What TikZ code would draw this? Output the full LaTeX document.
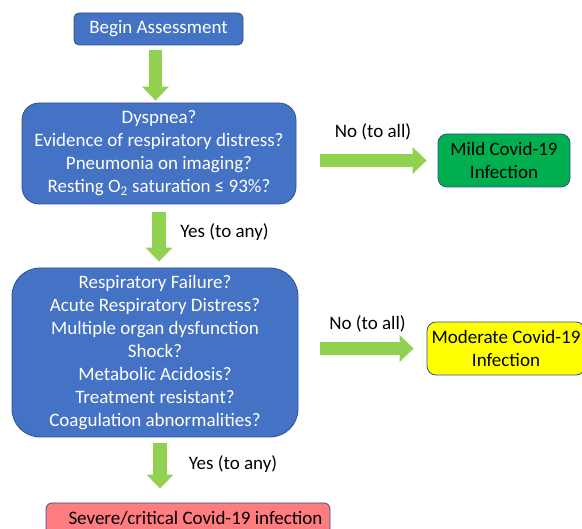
\documentclass[tikz,border=0pt]{standalone}
\usepackage{fontspec}
\setmainfont{Carlito}
\usetikzlibrary{arrows.meta}
\definecolor{boxblue}{HTML}{4472C4}
\definecolor{edgeblue}{HTML}{2F528F}
\definecolor{arrowgreen}{HTML}{92D050}
\definecolor{mildgreen}{HTML}{00B050}
\definecolor{modyellow}{HTML}{FFFF00}
\definecolor{sevred}{HTML}{FF7C80}
\begin{document}
\begin{tikzpicture}[x=1pt,y=-1pt,
  font=\fontsize{19}{23}\selectfont,
  box/.style={draw=edgeblue, line width=0.8pt, align=center, inner sep=0pt},
  bluebox/.style={box, fill=boxblue, text=white},
  garrow/.style={draw=arrowgreen, line width=13.5pt, -{Triangle[width=26pt,length=14pt]}},
  lbl/.style={anchor=base, text=black, inner sep=0pt}]
\useasboundingbox (0,0) rectangle (582,529);
\clip (0,0) rectangle (582,529);
\node[bluebox, rounded corners=5pt, minimum width=169pt, minimum height=32pt] (begin) at (158.5,29) {Begin Assessment};
\node[bluebox, rounded corners=17pt, minimum width=274pt, minimum height=101pt] (dys) at (159,153.5)
  {Dyspnea?\\Evidence of respiratory distress?\\Pneumonia on imaging?\\Resting O\textsubscript{2} saturation ≤ 93\%?};
\node[box, fill=mildgreen, rounded corners=9pt, minimum width=132pt, minimum height=53pt] (mild) at (504,160.5)
  {Mild Covid-19\\Infection};
\node[bluebox, rounded corners=28pt, minimum width=286pt, minimum height=169pt] (big) at (155,352.5)
  {Respiratory Failure?\\Acute Respiratory Distress?\\Multiple organ dysfunction\\Shock?\\Metabolic Acidosis?\\Treatment resistant?\\Coagulation abnormalities?};
\node[box, fill=modyellow, rounded corners=9pt, minimum width=158pt, minimum height=53pt] (mod) at (506,348.5)
  {Moderate Covid-19\\Infection};
\node[box, fill=sevred, rounded corners=6pt, minimum width=284pt, minimum height=31pt] (sev) at (188,518.5)
  {\hspace*{15pt}Severe/critical Covid-19 infection};
\draw[garrow, shorten <=5pt, shorten >=2pt] ([xshift=-3pt]begin.south) -- ([xshift=-3pt]begin.south |- dys.north);
\draw[garrow, shorten <=24pt, shorten >=11pt] (dys.east |- mild.west) -- (mild.west);
\draw[garrow, shorten <=8pt, shorten >=6pt] (dys.south) -- (dys.south |- big.north);
\draw[garrow, shorten <=22pt, shorten >=13pt] (big.east |- mod.west) -- (mod.west);
\draw[garrow, shorten <=6pt, shorten >=14pt] ([xshift=5pt]big.south) -- ([xshift=5pt]big.south |- sev.north);
\node[lbl] (no1) at (373,138) {No (to all)};
\node[lbl] (yes1) at (224.5,238) {Yes (to any)};
\node[lbl] (no2) at (367.5,330) {No (to all)};
\node[lbl] (yes2) at (233,470) {Yes (to any)};
\end{tikzpicture}
\end{document}
